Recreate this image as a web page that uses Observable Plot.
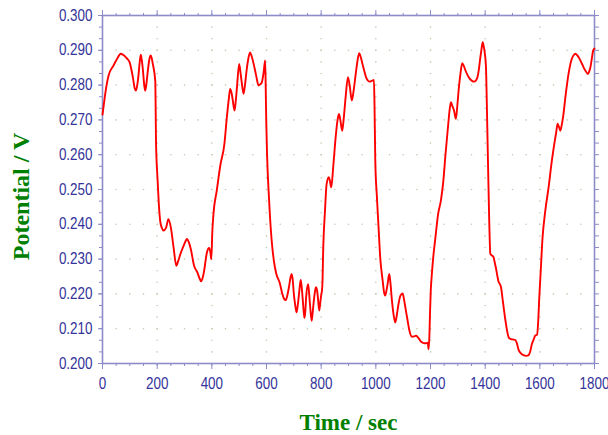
<!DOCTYPE html>
<html><head><meta charset="utf-8">
<script src="https://cdn.jsdelivr.net/npm/d3@7"></script>
<script src="https://cdn.jsdelivr.net/npm/@observablehq/plot@0.6"></script>
<style>body{margin:0;background:#fff}</style>
</head><body><div id="chart"></div>
<script>
const time = [0,5,10,22,40,53,67,79,90,99,111,118,122,126,131,136,140,144,148,152,156,160,166,171,176,180,184,193,196,201,206,211,217,223,233,241,250,260,270,277,284,295,303,309,316,323,335,347,355,361,367,372,377,382,390,395,398,402,406,418,431,446,455,462,467,472,476,483,487,492,500,505,510,516,522,528,534,540,546,553,562,571,577,583,590,595,597,599,602,609,618,627,636,648,658,665,670,676,682,688,692,696,700,705,710,714,719,725,728,732,736,739,742,745,752,755,759,765,768,772,777,781,785,788,793,796,799,804,808,814,820,828,832,837,844,853,860,865,870,877,882,890,898,905,912,918,925,932,939,945,951,958,964,970,976,985,993,995,998,1004,1010,1016,1025,1030,1034,1039,1043,1049,1053,1059,1065,1071,1077,1083,1090,1098,1104,1110,1117,1123,1132,1140,1147,1153,1159,1165,1171,1178,1184,1190,1193,1196,1198,1201,1204,1210,1218,1228,1238,1247,1255,1265,1271,1275,1280,1286,1293,1298,1304,1310,1316,1322,1328,1336,1344,1352,1359,1366,1372,1377,1381,1386,1391,1395,1399,1403,1406,1409,1414,1419,1425,1430,1435,1439,1448,1458,1466,1473,1480,1486,1494,1502,1510,1516,1522,1530,1540,1550,1559,1565,1571,1577,1583,1590,1594,1598,1602,1610,1620,1632,1644,1654,1660,1665,1670,1675,1680,1685,1695,1705,1715,1722,1730,1742,1752,1760,1768,1776,1781,1785,1790,1795,1800];
const potential = [0.2715,0.2745,0.2775,0.2827,0.2856,0.2875,0.2890,0.2885,0.2876,0.2866,0.2823,0.2790,0.2784,0.2795,0.2823,0.2865,0.2887,0.2870,0.2842,0.2805,0.2784,0.2800,0.2842,0.2872,0.2885,0.2878,0.2861,0.2813,0.2631,0.2535,0.2459,0.2410,0.2390,0.2382,0.2391,0.2415,0.2391,0.2334,0.2281,0.2295,0.2312,0.2335,0.2350,0.2358,0.2348,0.2329,0.2281,0.2262,0.2245,0.2236,0.2248,0.2267,0.2295,0.2319,0.2332,0.2318,0.2300,0.2382,0.2430,0.2497,0.2569,0.2631,0.2708,0.2760,0.2789,0.2778,0.2760,0.2727,0.2750,0.2794,0.2861,0.2835,0.2804,0.2775,0.2805,0.2847,0.2878,0.2894,0.2882,0.2861,0.2828,0.2799,0.2802,0.2808,0.2840,0.2871,0.2800,0.2700,0.2602,0.2477,0.2362,0.2295,0.2257,0.2233,0.2200,0.2185,0.2182,0.2195,0.2219,0.2248,0.2257,0.2240,0.2200,0.2168,0.2147,0.2165,0.2200,0.2240,0.2225,0.2190,0.2150,0.2131,0.2150,0.2190,0.2228,0.2210,0.2171,0.2123,0.2140,0.2171,0.2205,0.2219,0.2210,0.2190,0.2152,0.2170,0.2190,0.2219,0.2343,0.2439,0.2516,0.2535,0.2525,0.2506,0.2564,0.2650,0.2700,0.2717,0.2700,0.2669,0.2700,0.2770,0.2823,0.2795,0.2756,0.2780,0.2823,0.2865,0.2892,0.2880,0.2861,0.2840,0.2823,0.2814,0.2810,0.2812,0.2815,0.2750,0.2583,0.2477,0.2391,0.2305,0.2238,0.2205,0.2195,0.2210,0.2228,0.2257,0.2235,0.2180,0.2140,0.2118,0.2140,0.2171,0.2195,0.2201,0.2180,0.2152,0.2120,0.2094,0.2077,0.2078,0.2080,0.2076,0.2070,0.2063,0.2060,0.2058,0.2058,0.2060,0.2041,0.2080,0.2140,0.2210,0.2247,0.2305,0.2362,0.2430,0.2468,0.2525,0.2602,0.2689,0.2735,0.2751,0.2740,0.2727,0.2703,0.2740,0.2794,0.2835,0.2863,0.2855,0.2842,0.2828,0.2818,0.2812,0.2810,0.2813,0.2823,0.2845,0.2871,0.2900,0.2923,0.2910,0.2890,0.2851,0.2750,0.2631,0.2439,0.2315,0.2310,0.2307,0.2290,0.2276,0.2238,0.2219,0.2171,0.2130,0.2095,0.2075,0.2070,0.2069,0.2068,0.2058,0.2040,0.2030,0.2024,0.2022,0.2024,0.2035,0.2056,0.2068,0.2080,0.2083,0.2120,0.2190,0.2247,0.2362,0.2439,0.2506,0.2583,0.2636,0.2665,0.2689,0.2680,0.2669,0.2685,0.2708,0.2775,0.2832,0.2871,0.2884,0.2890,0.2880,0.2865,0.2851,0.2840,0.2832,0.2840,0.2851,0.2875,0.2899,0.2905];
const xTicks = [0,200,400,600,800,1000,1200,1400,1600,1800];
const yTicks = [0.200,0.210,0.220,0.230,0.240,0.250,0.260,0.270,0.280,0.290,0.300];
const xLabel = "Time / sec";
const yLabel = "Potential / V";

const data = time.map((t, i) => ({t, v: potential[i]}));
const xMinor = d3.range(0, 1801, 50);
const yMinor = d3.range(0, 31).map(i => +(0.2 + i / 300).toFixed(6));

// dotted grid: columns at major x with dots at minor y; rows at major y with dots at minor x
const gridPts = [];
for (const gx of xTicks.slice(1, -1)) for (const gy of yMinor.slice(1, -1)) gridPts.push({x: gx, y: gy});
for (const gy of yTicks.slice(1, -1)) for (const gx of xMinor.slice(1, -1)) gridPts.push({x: gx, y: gy});

const axisColor = "#8c8cc8";
const labelColor = "#333399";
const titleColor = "#008000";
const tickFont = "'Liberation Sans',Arial,sans-serif";
const titleFont = "'Liberation Serif','Times New Roman',serif";
const blank = () => "";

const chart = Plot.plot({
  width: 608, height: 435,
  marginLeft: 102, marginRight: 14, marginTop: 15, marginBottom: 72,
  x: {domain: [0, 1800]},
  y: {domain: [0.2, 0.3]},
  style: {fontFamily: tickFont, fontSize: "16px", background: "#fff", overflow: "visible"},
  marks: [
    Plot.dot(gridPts, {x: "x", y: "y", r: 0.8, fill: "#c8c8b0", stroke: null}),
    Plot.axisX(xMinor, {anchor: "bottom", tickSize: 3, tickFormat: blank, stroke: axisColor, label: null}),
    Plot.axisX(xTicks, {anchor: "bottom", tickSize: 6, tickPadding: 8, tickFormat: d => String(d), color: labelColor, stroke: axisColor, label: null}),
    Plot.axisX(xMinor, {anchor: "top", tickSize: 3, tickFormat: blank, stroke: axisColor, label: null}),
    Plot.axisX(xTicks, {anchor: "top", tickSize: 6, tickFormat: blank, stroke: axisColor, label: null}),
    Plot.axisY(yMinor, {anchor: "left", tickSize: 3, tickFormat: blank, stroke: axisColor, label: null}),
    Plot.axisY(yTicks, {anchor: "left", tickSize: 4, tickPadding: 6, tickFormat: d3.format(".3f"), color: labelColor, stroke: axisColor, label: null}),
    Plot.axisY(yMinor, {anchor: "right", tickSize: 4, tickFormat: blank, stroke: axisColor, label: null}),
    Plot.frame({stroke: axisColor, strokeWidth: 1.6}),
    Plot.line(data, {x: "t", y: "v", stroke: "#ff0000", strokeWidth: 1.9, curve: "monotone-x"}),
    Plot.text([xLabel], {frameAnchor: "bottom", dy: 66, lineAnchor: "bottom", textAnchor: "middle", text: d => d, fill: titleColor, fontFamily: titleFont, fontWeight: "bold", fontSize: 23}),
    Plot.text([yLabel], {frameAnchor: "left", rotate: -90, dx: -74, dy: 7, lineAnchor: "bottom", textAnchor: "middle", text: d => d, fill: titleColor, fontFamily: titleFont, fontWeight: "bold", fontSize: 24})
  ]
});
// narrow the tick-label glyphs horizontally (Arial Narrow look)
chart.querySelectorAll('g[aria-label$="tick label"] text').forEach(t => {
  const tr = t.getAttribute("transform") || "";
  t.setAttribute("transform", tr + " scale(0.84,1)");
});
document.getElementById("chart").appendChild(chart);
</script>
</body></html>
